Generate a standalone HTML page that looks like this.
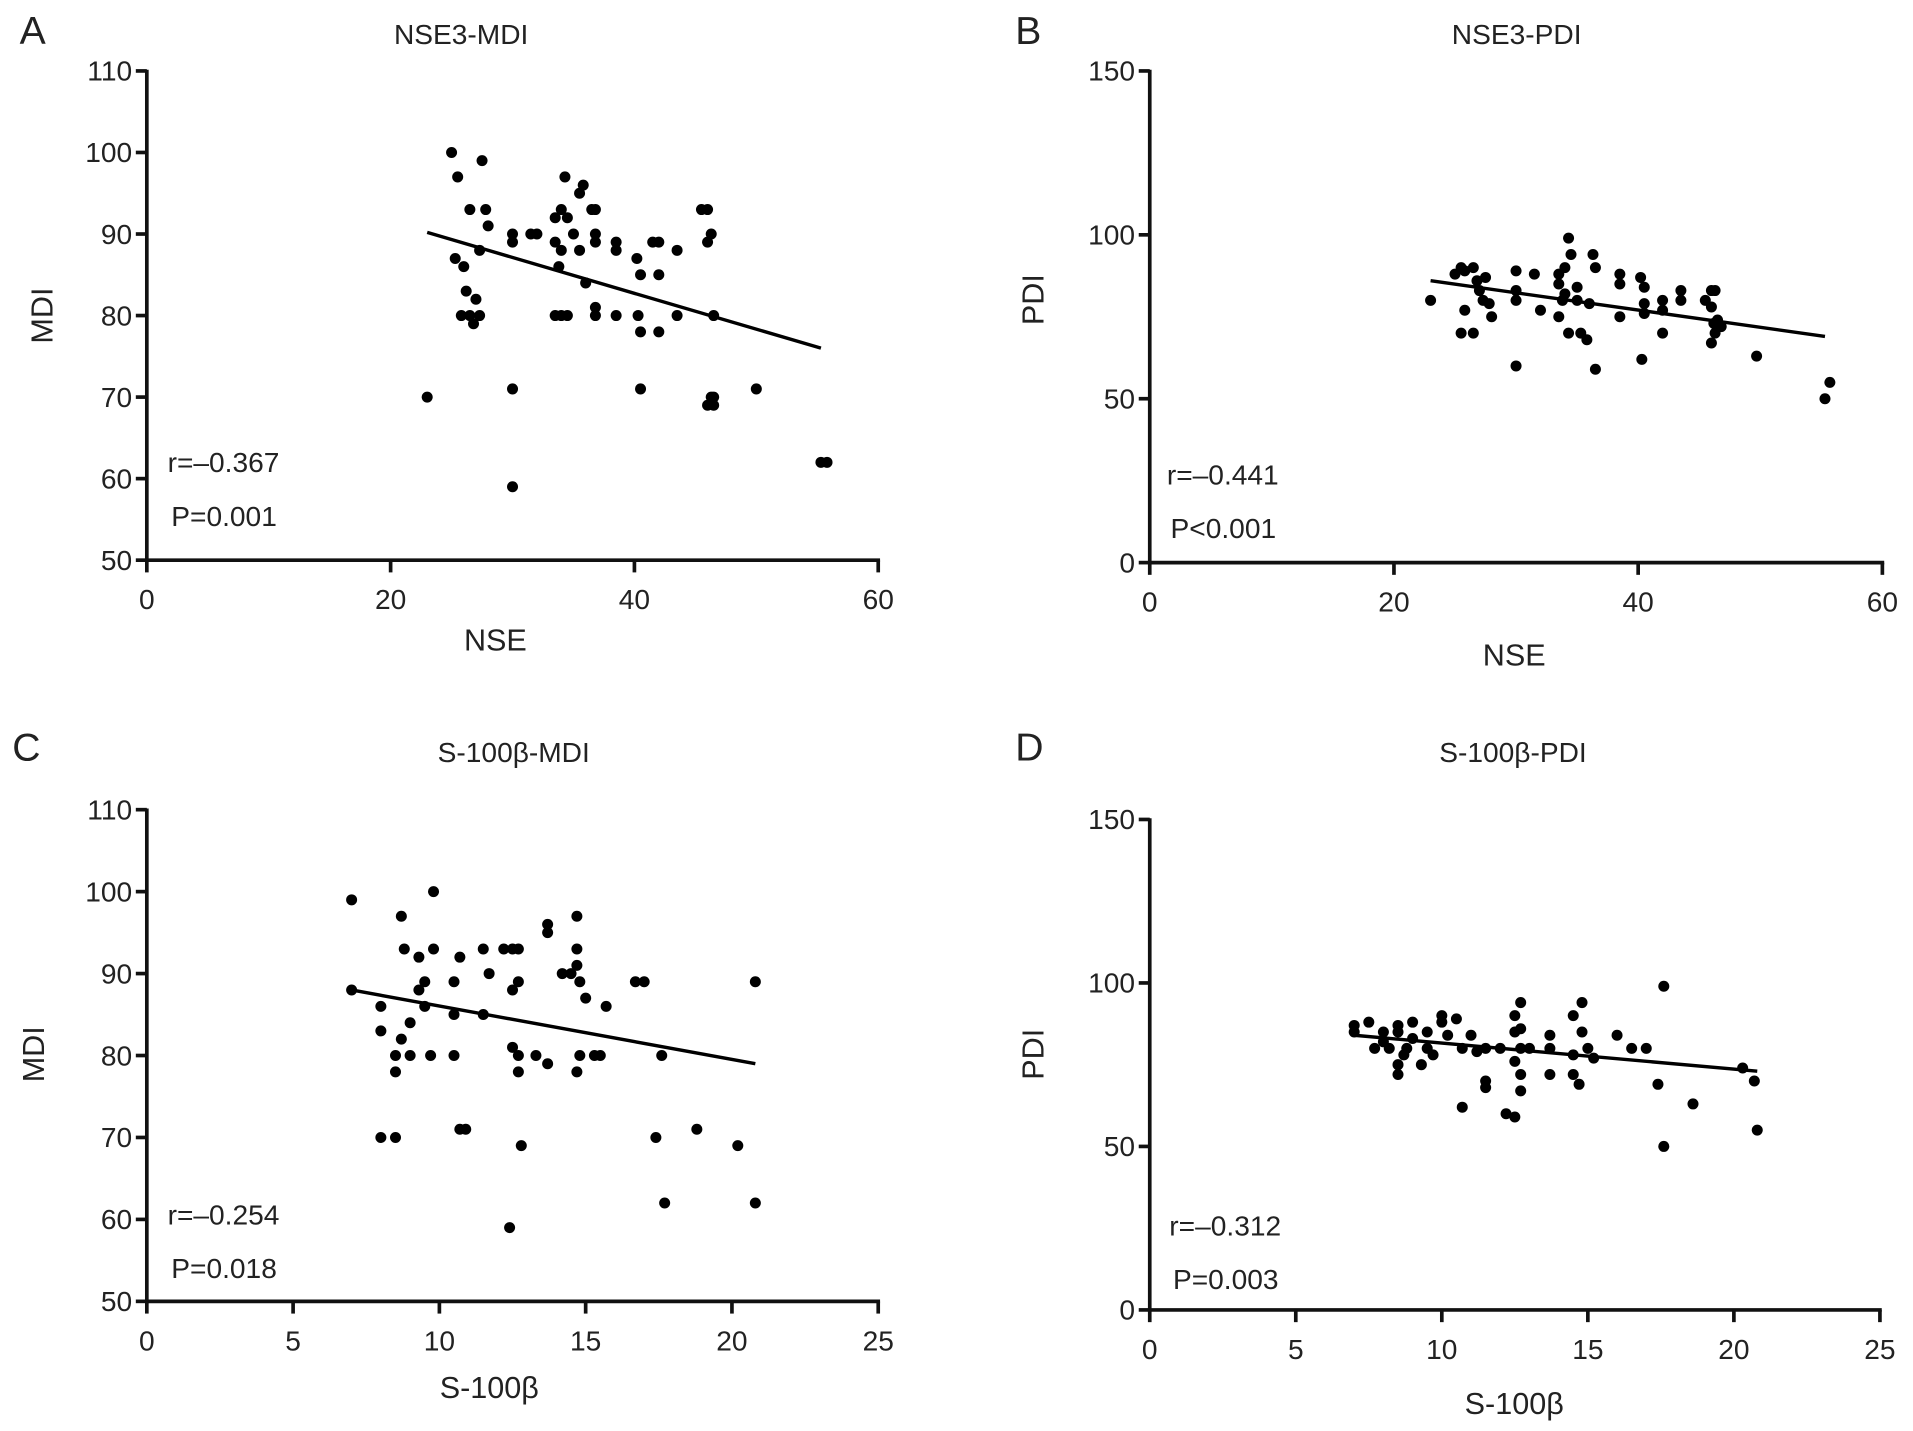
<!DOCTYPE html>
<html><head><meta charset="utf-8"><style>
html,body{margin:0;padding:0;background:#fff;}
svg{display:block;font-family:"Liberation Sans",Arial,sans-serif;}
</style></head><body>
<svg id="fig" width="1913" height="1431" viewBox="0 0 1564 1170" xmlns="http://www.w3.org/2000/svg"></svg>
<script>
const aX=[23,25,25.5,25.3,26.5,26,26.2,25.8,26.5,26.8,27,27.3,27.3,27.5,27.8,28,30,30,30,30,31.5,32,33.5,34,33.5,34,33.8,34,33.5,34.5,34.5,34.3,35,35.5,35.8,35.5,36,36.5,36.8,36.8,36.8,36.8,36.8,38.5,38.5,38.5,40.2,40.5,40.3,40.5,40.5,41.5,42,42,42,43.5,43.5,45.5,46,46,46.3,46.5,46,46.3,46.5,46.5,50,55.3,55.8];
const aY=[70,100,97,87,93,86,83,80,80,79,82,80,88,99,93,91,89,90,71,59,90,90,92,93,89,88,86,80,80,80,92,97,90,95,96,88,84,93,93,90,89,81,80,89,88,80,87,85,80,78,71,89,89,85,78,88,80,93,93,89,90,80,69,70,70,69,71,62,62];
const aFit=[[23,90.2],[55.3,76]];
const bX=[23,25,25.5,25.8,25.8,25.5,26.5,26.5,26.8,27,27.3,27.5,27.8,28,30,30,30,30,31.5,32,33.5,33.5,33.8,33.5,34,34,34.3,34.3,34.5,35,35,35.3,35.8,36,36.3,36.5,36.5,38.5,38.5,38.5,40.2,40.5,40.5,40.5,40.3,42,42,42,43.5,43.5,45.5,46,46.3,46,46.2,46.3,46,46.5,46.8,49.7,55.3,55.7];
const bY=[80,88,90,89,77,70,70,90,86,83,80,87,79,75,89,83,80,60,88,77,88,85,80,75,82,90,70,99,94,84,80,70,68,79,94,90,59,88,85,75,87,84,79,76,62,80,77,70,83,80,80,83,83,78,73,70,67,74,72,63,50,55];
const bFit=[[23,86],[55.3,69]];
const cX=[7,7,8,8,8,8.5,8.5,8.5,8.7,8.8,8.7,9,9,9.3,9.3,9.5,9.5,9.7,9.8,9.8,10.5,10.7,10.5,10.5,10.7,10.9,11.5,11.7,11.5,12.2,12.5,12.7,12.5,12.7,12.7,12.5,12.7,12.8,12.4,13.3,13.7,13.7,13.7,14.2,14.5,14.7,14.7,14.7,14.8,14.8,14.7,15,15.3,15.5,15.7,16.7,17,17.4,17.6,17.7,18.8,20.2,20.8,20.8];
const cY=[99,88,86,83,70,70,80,78,82,93,97,80,84,88,92,86,89,80,93,100,89,92,85,80,71,71,85,90,93,93,93,93,81,80,78,88,89,69,59,80,79,95,96,90,90,91,93,97,89,80,78,87,80,80,86,89,89,70,80,62,71,69,89,62];
const cFit=[[7,88],[20.8,79]];
const dX=[7,7,7.5,7.7,8,8,8.2,8.5,8.5,8.5,8.5,8.7,8.8,9,9,9.3,9.5,9.7,9.5,10,10,10.2,10.5,10.7,10.7,11,11.2,11.5,11.5,11.5,12,12.2,12.5,12.5,12.5,12.7,12.7,12.7,12.7,12.7,12.5,13,13.7,13.7,13.7,14.5,14.5,14.5,14.7,14.8,14.8,15,15.2,16,16.5,17,17.4,17.6,17.6,18.6,20.3,20.7,20.8];
const dY=[87,85,88,80,85,82,80,87,85,75,72,78,80,88,83,75,80,78,85,90,88,84,89,80,62,84,79,80,70,68,80,60,90,85,76,94,86,80,72,67,59,80,84,80,72,90,78,72,69,94,85,80,77,84,80,80,69,99,50,63,74,70,55];
const dFit=[[7,84],[20.8,73]];
const nseTicks=[0,20,40,60];
const s100Ticks=[0,5,10,15,20,25];
const mdiTicks=[50,60,70,80,90,100,110];
const pdiTicks=[0,50,100,150];

const NS="http://www.w3.org/2000/svg";
const svg=document.getElementById('fig');
function el(tag,attrs,parent,text){const e=document.createElementNS(NS,tag);for(const k in attrs)e.setAttribute(k,attrs[k]);if(text!==undefined)e.textContent=text;(parent||svg).appendChild(e);return e;}

function panel(o){
  const g=el('g',{});
  
  
  const sx=v=>o.x0+(v-o.xmin)/(o.xmax-o.xmin)*(o.x1-o.x0);
  const sy=v=>o.y0-(v-o.ymin)/(o.ymax-o.ymin)*(o.y0-o.y1);
  let t=el('text',{x:o.lx,y:o.ly,'font-size':32,fill:'#222'},g,o.letter);
  
  t=el('text',{x:o.tx,y:o.ty,'font-size':23,fill:'#222','text-anchor':'middle'},g,o.title);
  
  let ax=el('line',{x1:o.x0,y1:o.y1-1,x2:o.x0,y2:o.y0+1.5,stroke:'#111','stroke-width':3},g);
  
  ax=el('line',{x1:o.x0-1.5,y1:o.y0,x2:o.x1+1.5,y2:o.y0,stroke:'#111','stroke-width':3},g);
  
  o.yt.forEach(v=>{
    const y=sy(v);
    el('line',{x1:o.x0-9,y1:y,x2:o.x0,y2:y,stroke:'#111','stroke-width':3},g);
    const tl=el('text',{x:o.x0-12,y:y+8,'font-size':23,fill:'#222','text-anchor':'end'},g,String(v));
    
  });
  o.xt.forEach(v=>{
    const x=sx(v);
    el('line',{x1:x,y1:o.y0,x2:x,y2:o.y0+10,stroke:'#111','stroke-width':3},g);
    const tl=el('text',{x:x,y:o.y0+40,'font-size':23,fill:'#222','text-anchor':'middle'},g,String(v));
    
  });
  t=el('text',{x:o.xlx,y:o.xly,'font-size':25,fill:'#222','text-anchor':'middle'},g,o.xlabel);
  
  t=el('text',{x:0,y:0,'font-size':25,fill:'#222','text-anchor':'middle',transform:`translate(${o.ylx},${o.yly}) rotate(-90)`},g,o.ylabel);
  
  o.X.forEach((xv,i)=>{
    const c=el('circle',{cx:sx(xv),cy:sy(o.Y[i]),r:4.5,fill:'#000'},g);
    
    
  });
  const ln=el('line',{x1:sx(o.fit[0][0]),y1:sy(o.fit[0][1]),x2:sx(o.fit[1][0]),y2:sy(o.fit[1][1]),stroke:'#000','stroke-width':2.8},g);
  
  t=el('text',{x:o.rx,y:o.ry,'font-size':23,fill:'#222'},g,o.r);
  
  t=el('text',{x:o.rx+3,y:o.ry+44,'font-size':23,fill:'#222'},g,o.p);
  
}

panel({letter:'A',lx:16,ly:36,title:'NSE3-MDI',tx:377,ty:36,x0:120,x1:718,y0:458,y1:58,xmin:0,xmax:60,ymin:50,ymax:110,
  xt:nseTicks,yt:mdiTicks,xlabel:'NSE',xlx:405,xly:532,ylabel:'MDI',ylx:43,yly:258,X:aX,Y:aY,fit:aFit,r:'r=\u20130.367',p:'P=0.001',rx:137,ry:386});
panel({letter:'B',lx:830,ly:36,title:'NSE3-PDI',tx:1240,ty:36,x0:940,x1:1539,y0:460,y1:58,xmin:0,xmax:60,ymin:0,ymax:150,
  xt:nseTicks,yt:pdiTicks,xlabel:'NSE',xlx:1238,xly:544,ylabel:'PDI',ylx:853,yly:245,X:bX,Y:bY,fit:bFit,r:'r=\u20130.441',p:'P<0.001',rx:954,ry:396});
panel({letter:'C',lx:10,ly:622,title:'S-100\u03b2-MDI',tx:420,ty:623,x0:120,x1:718,y0:1064,y1:662,xmin:0,xmax:25,ymin:50,ymax:110,
  xt:s100Ticks,yt:mdiTicks,xlabel:'S-100\u03b2',xlx:400,xly:1143,ylabel:'MDI',ylx:36,yly:862,X:cX,Y:cY,fit:cFit,r:'r=\u20130.254',p:'P=0.018',rx:137,ry:1001});
panel({letter:'D',lx:830,ly:622,title:'S-100\u03b2-PDI',tx:1237,ty:623,x0:940,x1:1537,y0:1071,y1:670,xmin:0,xmax:25,ymin:0,ymax:150,
  xt:s100Ticks,yt:pdiTicks,xlabel:'S-100\u03b2',xlx:1238,xly:1156,ylabel:'PDI',ylx:853,yly:862,X:dX,Y:dY,fit:dFit,r:'r=\u20130.312',p:'P=0.003',rx:956,ry:1010});
</script>
</body></html>
